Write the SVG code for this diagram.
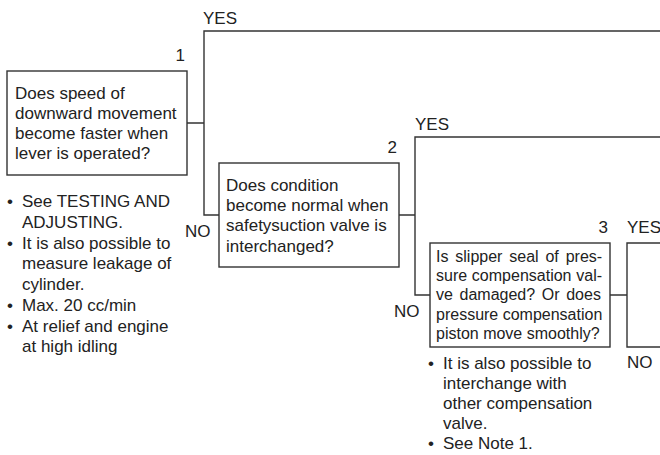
<svg xmlns="http://www.w3.org/2000/svg" width="660" height="455" viewBox="0 0 660 455">
<style>
text{font-family:"Liberation Sans",Arial,sans-serif;fill:#222;}
.t{font-size:17px;}
.s{font-size:16px;}
.box{fill:#fff;stroke:#333;stroke-width:1.4;}
.ln{fill:none;stroke:#333;stroke-width:1.4;}
</style>
<rect width="660" height="455" fill="#fff"/>
<g id="connectors">
<path class="ln" d="M187,123 H204 M660,31 H204 V215 H219"/>
<path class="ln" d="M399,215 H415 M660,137 H415 V295 H430"/>
<path class="ln" d="M610,295 H627 M660,243 H627 V347 H660"/>
<text class="t" x="203" y="24">YES</text>
<text class="t" x="185" y="237">NO</text>
<text class="t" x="415" y="130">YES</text>
<text class="t" x="394" y="317">NO</text>
<text class="t" x="627" y="233">YES</text>
<text class="t" x="627" y="368">NO</text>
</g>
<g id="node1">
<text class="t" x="185" y="61" text-anchor="end">1</text>
<rect class="box" x="7" y="71" width="180" height="104"/>
<text class="t" x="15" y="99">Does speed of</text>
<text class="t" x="15" y="119">downward movement</text>
<text class="t" x="15" y="139">become faster when</text>
<text class="t" x="15" y="159">lever is operated?</text>
</g>
<g id="note1">
<text class="t" x="7" y="207">•</text><text class="t" x="22" y="207">See TESTING AND</text>
<text class="t" x="22" y="227.5">ADJUSTING.</text>
<text class="t" x="7" y="248.5">•</text><text class="t" x="22" y="248.5">It is also possible to</text>
<text class="t" x="22" y="269">measure leakage of</text>
<text class="t" x="22" y="290">cylinder.</text>
<text class="t" x="7" y="310.5">•</text><text class="t" x="22" y="310.5">Max. 20 cc/min</text>
<text class="t" x="7" y="331.5">•</text><text class="t" x="22" y="331.5">At relief and engine</text>
<text class="t" x="22" y="352">at high idling</text>
</g>
<g id="node2">
<text class="t" x="397" y="153" text-anchor="end">2</text>
<rect class="box" x="219" y="163" width="180" height="104"/>
<text class="t" x="226" y="191">Does condition</text>
<text class="t" x="226" y="211">become normal when</text>
<text class="t" x="226" y="231">safetysuction valve is</text>
<text class="t" x="226" y="251.5">interchanged?</text>
</g>
<g id="node3">
<text class="t" x="608" y="233" text-anchor="end">3</text>
<rect class="box" x="430" y="243" width="180" height="104"/>
<text class="s" x="436" y="262" word-spacing="2.4">Is slipper seal of pres-</text>
<text class="s" x="436" y="281" word-spacing="0.3">sure compensation val-</text>
<text class="s" x="436" y="300" word-spacing="2.2">ve damaged? Or does</text>
<text class="s" x="436" y="319.5">pressure compensation</text>
<text class="s" x="436" y="338.5">piston move smoothly?</text>
</g>
<g id="note3">
<text class="t" x="428" y="368.5">•</text><text class="t" x="443" y="368.5">It is also possible to</text>
<text class="t" x="443" y="388.5">interchange with</text>
<text class="t" x="443" y="408.5">other compensation</text>
<text class="t" x="443" y="428.5">valve.</text>
<text class="t" x="428" y="448.5">•</text><text class="t" x="443" y="448.5">See Note 1.</text>
</g>
</svg>
